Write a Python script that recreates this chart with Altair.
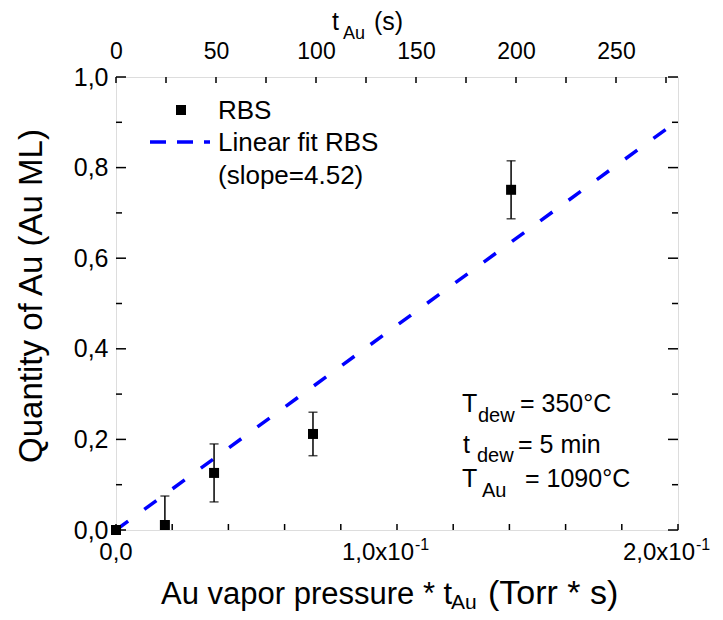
import altair as alt
import pandas as pd

# ---------------- data ----------------
pressure_time = [0.0, 0.0174, 0.0349, 0.0701, 0.1406]   # Au vapor pressure * t_Au (Torr*s)
quantity = [0.0, 0.011, 0.126, 0.212, 0.751]            # Au ML (RBS)
error = [0.0, 0.064, 0.064, 0.048, 0.064]               # error bar half-width

fit_x = [0.0, 0.2]          # linear fit RBS (slope = 4.52)
fit_y = [0.0, 0.904]

x_tick_values = [0.0, 0.02, 0.04, 0.06, 0.08, 0.1, 0.12, 0.14, 0.16, 0.18, 0.2]
x_label_values = [0.0, 0.1, 0.2]
x_label_main = ["0,0", "1,0x10", "2,0x10"]
x_label_sup = ["", "-1", "-1"]
y_major = [0.0, 0.2, 0.4, 0.6, 0.8, 1.0]
y_minor = [0.1, 0.3, 0.5, 0.7, 0.9]
top_tick_values = [0, 25, 50, 75, 100, 125, 150, 175, 200, 225, 250, 275]
top_label_values = [0, 50, 100, 150, 200, 250]

X_DOMAIN = [0.0, 0.2]
Y_DOMAIN = [0.0, 1.0]
TOP_DOMAIN = [0, 281]

W, H = 562, 453
FONT = "Liberation Sans"

df = pd.DataFrame({"p": pressure_time, "q": quantity, "err": error})
df["lo"] = df["q"] - df["err"]
df["hi"] = df["q"] + df["err"]
fit_df = pd.DataFrame({"p": fit_x, "q": fit_y})
xt_df = pd.DataFrame({"p": x_tick_values})
xl_df = pd.DataFrame({"p": x_label_values, "main": x_label_main, "sup": x_label_sup})
ymaj_df = pd.DataFrame({"q": y_major})
ymin_df = pd.DataFrame({"q": y_minor})
top_df = pd.DataFrame({"t": top_tick_values})
one = pd.DataFrame({"a": [0]})

xs = alt.Scale(domain=X_DOMAIN, nice=False, zero=False)
ys = alt.Scale(domain=Y_DOMAIN, nice=False, zero=False)
ts = alt.Scale(domain=TOP_DOMAIN, nice=False, zero=False)

left_axis = alt.Axis(values=y_major, ticks=False, tickSize=0, domain=False, grid=False,
                     labelExpr="replace(format(datum.value, '.1f'), '.', ',')",
                     labelFontSize=25, labelFont=FONT, labelColor="black",
                     labelPadding=8, labelFlush=False, labelOverlap=False, title=None)
top_axis = alt.Axis(orient="top", values=top_label_values, ticks=False, tickSize=0,
                    domain=False, grid=False, format="d",
                    labelFontSize=23, labelFont=FONT, labelColor="black",
                    labelPadding=14, labelFlush=False, labelOverlap=False, title=None)

def X(field="p"):
    return alt.X(f"{field}:Q", scale=xs, axis=None)

def Y(field="q"):
    return alt.Y(f"{field}:Q", scale=ys, axis=left_axis)

# fit line
fit = alt.Chart(fit_df).mark_line(color="#0000ff", strokeWidth=3.5, strokeDash=[15, 20],
                                  clip=True).encode(x=X(), y=Y())

# error bars
bars = alt.Chart(df).mark_rule(color="black", strokeWidth=1.5, clip=True).encode(
    x=X(), y=Y("lo"), y2="hi")
cap_lo = alt.Chart(df).mark_tick(color="black", size=9, thickness=1.5, orient="horizontal",
                                 clip=True).encode(x=X(), y=Y("lo"))
cap_hi = alt.Chart(df).mark_tick(color="black", size=9, thickness=1.5, orient="horizontal",
                                 clip=True).encode(x=X(), y=Y("hi"))

pts = alt.Chart(df).mark_square(color="black", size=100, opacity=1).encode(x=X(), y=Y())

# inward ticks
bt = alt.Chart(xt_df).mark_rule(color="black", strokeWidth=1.5).encode(
    x=X(), y=alt.value(H), y2=alt.value(H - 6))
lt_maj = alt.Chart(ymaj_df).mark_rule(color="black", strokeWidth=1.5).encode(
    y=Y(), x=alt.value(0), x2=alt.value(10))
lt_min = alt.Chart(ymin_df).mark_rule(color="black", strokeWidth=1.5).encode(
    y=Y(), x=alt.value(0), x2=alt.value(6))
rt_maj = alt.Chart(ymaj_df).mark_rule(color="black", strokeWidth=1.5).encode(
    y=Y(), x=alt.value(W), x2=alt.value(W - 10))
rt_min = alt.Chart(ymin_df).mark_rule(color="black", strokeWidth=1.5).encode(
    y=Y(), x=alt.value(W), x2=alt.value(W - 6))
tt = alt.Chart(top_df).mark_rule(color="black", strokeWidth=1.5).encode(
    x=alt.X("t:Q", scale=ts, axis=top_axis), y=alt.value(0), y2=alt.value(6))

# bottom tick labels (with superscript exponent)
xl_base = alt.Chart(xl_df)
xl_zero = xl_base.transform_filter("datum.sup == ''").mark_text(
    fontSize=24, font=FONT, color="black", align="center", baseline="alphabetic").encode(
    x=X(), y=alt.value(H + 30), text="main:N")
xl_main = xl_base.transform_filter("datum.sup != ''").mark_text(
    fontSize=24, font=FONT, color="black", align="right", baseline="alphabetic", dx=17).encode(
    x=X(), y=alt.value(H + 30), text="main:N")
xl_sup = xl_base.transform_filter("datum.sup != ''").mark_text(
    fontSize=16, font=FONT, color="black", align="left", baseline="alphabetic", dx=18).encode(
    x=X(), y=alt.value(H + 20), text="sup:N")

# legend
leg_sq = alt.Chart(one).mark_square(color="black", size=100, opacity=1).encode(
    x=alt.value(65), y=alt.value(33))
leg_line = alt.Chart(one).mark_rule(color="#0000ff", strokeWidth=3.5, strokeDash=[16, 11]).encode(
    x=alt.value(34), x2=alt.value(94), y=alt.value(65))

def txt(s, x, y, size=24, align="left", baseline="alphabetic", angle=0):
    kw = dict(text=s, fontSize=size, font=FONT, color="black", align=align, baseline=baseline)
    if angle:
        kw["angle"] = angle
    return alt.Chart(one).mark_text(**kw).encode(x=alt.value(x), y=alt.value(y))

texts = [
    txt("RBS", 102, 34, size=26, baseline="middle"),
    txt("Linear fit RBS", 102, 66, size=26, baseline="middle"),
    txt("(slope=4.52)", 102, 99, size=26, baseline="middle"),
    # annotation
    txt("T", 346, 335, size=25), txt("dew", 362, 345, size=20), txt("= 350°C", 404, 335, size=25),
    txt("t", 347, 376, size=25), txt("dew", 361, 385, size=20), txt("=  5 min", 402, 376, size=25),
    txt("T", 346, 410, size=25), txt("Au", 366, 420, size=20), txt("= 1090°C", 409, 410, size=25),
    # axis titles
    txt("Quantity of Au (Au ML)", -84, 219, size=33, align="center", baseline="middle", angle=270),
    txt("Au vapor pressure * t", 45, 527, size=31),
    txt("Au", 335, 532, size=21),
    txt("(Torr * s)", 372, 527, size=34),
    txt("t", 216, -47, size=25),
    txt("Au", 227, -38, size=18),
    txt("(s)", 258, -47, size=25),
]

chart = alt.layer(
    fit, bars, cap_lo, cap_hi, pts, bt, lt_maj, lt_min, rt_maj, rt_min, tt,
    xl_zero, xl_main, xl_sup, leg_sq, leg_line, *texts
).resolve_scale(x="independent").properties(
    width=W, height=H,
    autosize=alt.AutoSizeParams(type="none"),
    padding={"left": 108, "top": 69, "right": 37, "bottom": 82},
).configure_view(stroke="black", strokeWidth=2).configure(background="white")

chart.save("out.html", embed_options={"renderer": "svg", "actions": False})
